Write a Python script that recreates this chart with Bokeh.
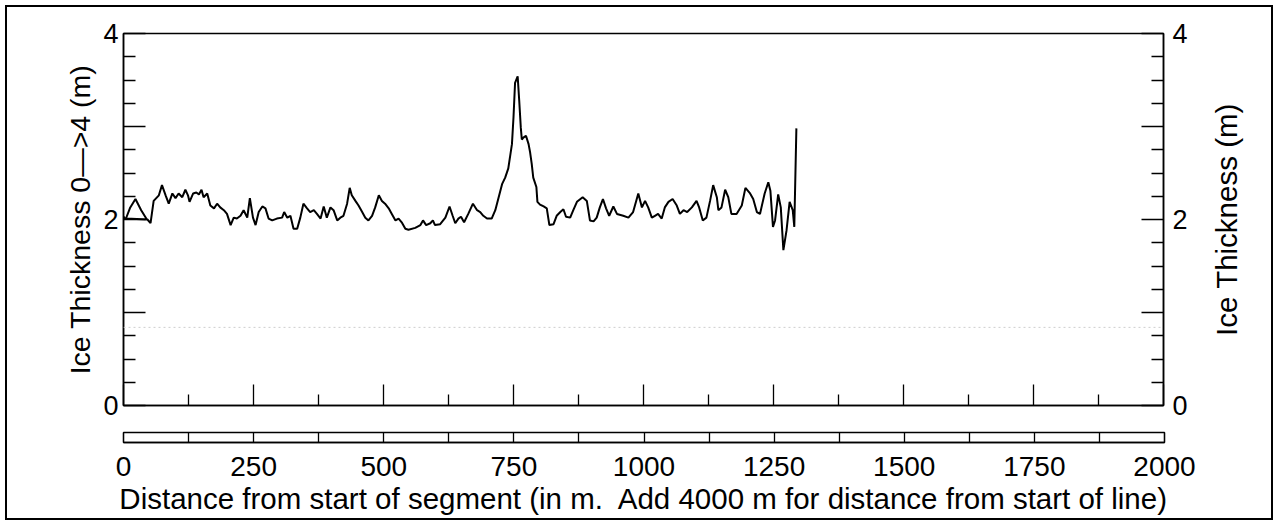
import math
from bokeh.plotting import figure
from bokeh.layouts import column, row
from bokeh.models import Range1d, LinearAxis, FixedTicker, Span
from bokeh.embed import file_html
from bokeh.resources import INLINE

# ---- data ----
distance_m = [0, 4, 13, 23, 34, 45, 5, 46, 52, 58, 68, 74, 81, 87, 94, 100, 106, 113,
              119, 124, 127, 134, 140, 145, 150, 154, 161, 167, 174, 180, 186, 193,
              199, 206, 212, 218, 225, 231, 238, 243, 249, 254, 260, 267, 273, 279,
              286, 295, 305, 309, 315, 321, 327, 334, 340, 346, 353, 359, 366, 372,
              379, 385, 391, 398, 404, 411, 417, 423, 430, 435, 439, 446, 452, 459,
              465, 471, 478, 484, 491, 497, 503, 510, 516, 523, 529, 535, 542, 548,
              561, 571, 576, 582, 590, 595, 599, 609, 619, 627, 633, 638, 644, 649,
              655, 663, 672, 680, 686, 692, 699, 708, 715, 728, 734, 740, 747, 750,
              753, 758, 761, 764, 766, 769, 774, 779, 782, 785, 788, 794, 796, 801,
              808, 814, 819, 827, 833, 840, 846, 851, 859, 865, 872, 883, 891, 897,
              904, 910, 916, 922, 928, 934, 942, 949, 961, 971, 980, 990, 997, 1003,
              1009, 1016, 1022, 1028, 1035, 1041, 1048, 1056, 1064, 1070, 1077, 1084,
              1093, 1102, 1107, 1114, 1121, 1128, 1134, 1141, 1144, 1150, 1157, 1163,
              1169, 1179, 1189, 1196, 1205, 1211, 1218, 1224, 1233, 1240, 1244, 1249,
              1253, 1259, 1264, 1269, 1275, 1281, 1287, 1290, 1294]
thickness_m = [2.03, 2.00, 2.13, 2.22, 2.10, 2.00, 2.01, 2.00, 1.96, 2.20, 2.26, 2.37,
               2.26, 2.17, 2.28, 2.23, 2.28, 2.24, 2.32, 2.26, 2.19, 2.28, 2.29, 2.27,
               2.32, 2.24, 2.28, 2.15, 2.12, 2.17, 2.13, 2.10, 2.06, 1.94, 2.02, 2.01,
               2.04, 2.10, 2.02, 2.23, 2.02, 1.94, 2.08, 2.14, 2.12, 2.01, 1.99, 2.01,
               2.02, 2.08, 2.02, 2.04, 1.90, 1.90, 2.02, 2.17, 2.12, 2.08, 2.10, 2.06,
               2.01, 2.14, 2.02, 2.13, 2.10, 1.99, 2.02, 2.04, 2.17, 2.34, 2.26, 2.20,
               2.15, 2.08, 2.02, 1.99, 2.04, 2.13, 2.26, 2.20, 2.17, 2.12, 2.06, 1.99,
               2.01, 1.97, 1.90, 1.89, 1.91, 1.94, 1.99, 1.94, 1.96, 1.99, 1.94, 1.95,
               2.02, 2.14, 2.04, 1.96, 2.01, 2.03, 1.97, 2.06, 2.17, 2.10, 2.08, 2.04,
               2.01, 2.01, 2.10, 2.38, 2.45, 2.55, 2.81, 3.10, 3.47, 3.54, 3.28, 2.99,
               2.86, 2.88, 2.90, 2.81, 2.72, 2.60, 2.45, 2.35, 2.19, 2.16, 2.14, 2.12,
               1.94, 1.95, 2.04, 2.08, 2.11, 2.03, 2.02, 2.10, 2.19, 2.24, 2.20, 1.99,
               1.98, 2.02, 2.13, 2.22, 2.12, 2.04, 2.14, 2.06, 2.04, 2.02, 2.08, 2.28,
               2.13, 2.20, 2.13, 2.02, 2.04, 2.06, 2.01, 2.13, 2.19, 2.22, 2.15, 2.06,
               2.10, 2.08, 2.13, 2.20, 2.13, 1.99, 2.02, 2.20, 2.37, 2.24, 2.10, 2.13,
               2.32, 2.24, 2.06, 2.06, 2.15, 2.34, 2.28, 2.22, 2.08, 2.06, 2.28, 2.40,
               2.31, 1.92, 1.99, 2.27, 2.13, 1.67, 1.88, 2.19, 2.10, 1.92, 2.98]

x_major_ticks = [0, 250, 500, 750, 1000, 1250, 1500, 1750, 2000]
x_minor_ticks = [125, 375, 625, 875, 1125, 1375, 1625, 1875]
x_tick_labels = ["0", "250", "500", "750", "1000", "1250", "1500", "1750", "2000"]
y_major_ticks = [0, 1, 2, 3, 4]
y_minor_ticks = [0.25, 0.5, 0.75, 1.25, 1.5, 1.75, 2.25, 2.5, 2.75, 3.25, 3.5, 3.75]
y_tick_labels = ["0", "", "2", "", "4"]

left_title = "Ice Thickness 0\u2014>4 (m)"
right_title = "Ice Thickness (m)"
x_title = "Distance from start of segment (in m.\u00a0 Add 4000 m for distance from start of line)"

FONT = "Liberation Sans"
FOLD_LEVEL = 0.84   # faint scan fold across the page

PAGE_W = 1278
FRAME_L, FRAME_R = 123, 1164
MAIN_W = 1190
MAIN_H = 425

# ---- main panel ----
pm = figure(width=MAIN_W, height=MAIN_H, x_range=Range1d(0, 2000), y_range=Range1d(0, 4),
            x_axis_location=None, y_axis_location=None,
            output_backend="svg", toolbar_location=None,
            min_border_left=FRAME_L, min_border_right=MAIN_W - FRAME_R,
            min_border_top=33, min_border_bottom=20,
            outline_line_color="black", outline_line_width=1.5,
            background_fill_color="white", border_fill_color=None)
pm.xgrid.visible = False
pm.ygrid.visible = False

pm.add_layout(Span(location=FOLD_LEVEL, dimension="width", line_color="#cfcfcf",
                   line_width=1, line_dash="2 3"))
pm.line(distance_m, thickness_m, line_color="black", line_width=2)


def style_y(ax, standoff):
    ax.ticker = FixedTicker(ticks=y_major_ticks, minor_ticks=y_minor_ticks)
    ax.major_label_overrides = {t: l for t, l in zip(y_major_ticks, y_tick_labels)}
    ax.major_tick_in = 22
    ax.major_tick_out = 0
    ax.minor_tick_in = 12
    ax.minor_tick_out = 0
    ax.axis_line_width = 1.5
    ax.major_tick_line_width = 1.3
    ax.minor_tick_line_width = 1.3
    ax.major_label_text_font = FONT
    ax.major_label_text_font_size = "27px"
    ax.major_label_text_color = "black"
    ax.major_label_standoff = standoff


def style_title(ax, text, size):
    ax.axis_label = text
    ax.axis_label_text_font = FONT
    ax.axis_label_text_font_size = size
    ax.axis_label_text_font_style = "normal"
    ax.axis_label_text_color = "black"


ly = LinearAxis()
style_y(ly, 5)
style_title(ly, left_title, "28.5px")
ly.axis_label_standoff = 4
pm.add_layout(ly, "left")

ry = LinearAxis()
style_y(ry, 9)
pm.add_layout(ry, "right")

bm = LinearAxis(ticker=FixedTicker(ticks=x_major_ticks, minor_ticks=x_minor_ticks))
bm.major_tick_in = 21
bm.major_tick_out = 0
bm.minor_tick_in = 11
bm.minor_tick_out = 0
bm.axis_line_width = 1.5
bm.major_tick_line_width = 1.3
bm.minor_tick_line_width = 1.3
bm.major_label_text_font_size = "1px"
bm.major_label_text_alpha = 0
bm.major_label_standoff = 0
pm.add_layout(bm, "below")

# ---- narrow side panel carrying the right-hand title (reads bottom to top) ----
SIDE_W = PAGE_W - MAIN_W
pr = figure(width=SIDE_W, height=MAIN_H, x_range=Range1d(0, 1), y_range=Range1d(0, 4),
            x_axis_location=None, y_axis_location=None,
            output_backend="svg", toolbar_location=None,
            min_border_left=62, min_border_right=0, min_border_top=33, min_border_bottom=20,
            outline_line_color=None, background_fill_color=None, border_fill_color=None)
pr.xgrid.visible = False
pr.ygrid.visible = False
rt = LinearAxis(ticker=FixedTicker(ticks=[], minor_ticks=[]))
rt.axis_line_color = None
rt.major_tick_line_color = None
rt.minor_tick_line_color = None
rt.major_label_standoff = 0
style_title(rt, right_title, "29.5px")
rt.axis_label_standoff = 10
pr.add_layout(rt, "left")

# ---- distance strip with tick labels ----
ps = figure(width=PAGE_W, height=525 - MAIN_H, x_range=Range1d(0, 2000), y_range=Range1d(0, 1),
            x_axis_location=None, y_axis_location=None,
            output_backend="svg", toolbar_location=None,
            min_border_left=FRAME_L, min_border_right=PAGE_W - FRAME_R,
            min_border_top=7, min_border_bottom=83,
            outline_line_color="black", outline_line_width=1.3,
            background_fill_color="white", border_fill_color=None)
ps.xgrid.visible = False
ps.ygrid.visible = False

strip_ticks = sorted(x_major_ticks + x_minor_ticks)
bs = LinearAxis(ticker=FixedTicker(ticks=strip_ticks, minor_ticks=[]))
overrides = {t: "" for t in x_minor_ticks}
overrides.update({t: l for t, l in zip(x_major_ticks, x_tick_labels)})
bs.major_label_overrides = overrides
bs.major_tick_in = 10
bs.major_tick_out = 0
bs.minor_tick_in = 0
bs.minor_tick_out = 0
bs.axis_line_width = 1.3
bs.major_tick_line_width = 1.3
bs.major_label_standoff = 14
bs.major_label_text_font = FONT
bs.major_label_text_font_size = "28px"
bs.major_label_text_color = "black"
style_title(bs, x_title, "29.5px")
bs.axis_label_standoff = 3
ps.add_layout(bs, "below")

page = column(row(pm, pr, spacing=0), ps, spacing=0,
              styles={"background-color": "white",
                      "box-shadow": "inset 0 0 0 5px white, inset 0 0 0 7px black"})

open("out.html", "w").write(file_html(page, INLINE))
